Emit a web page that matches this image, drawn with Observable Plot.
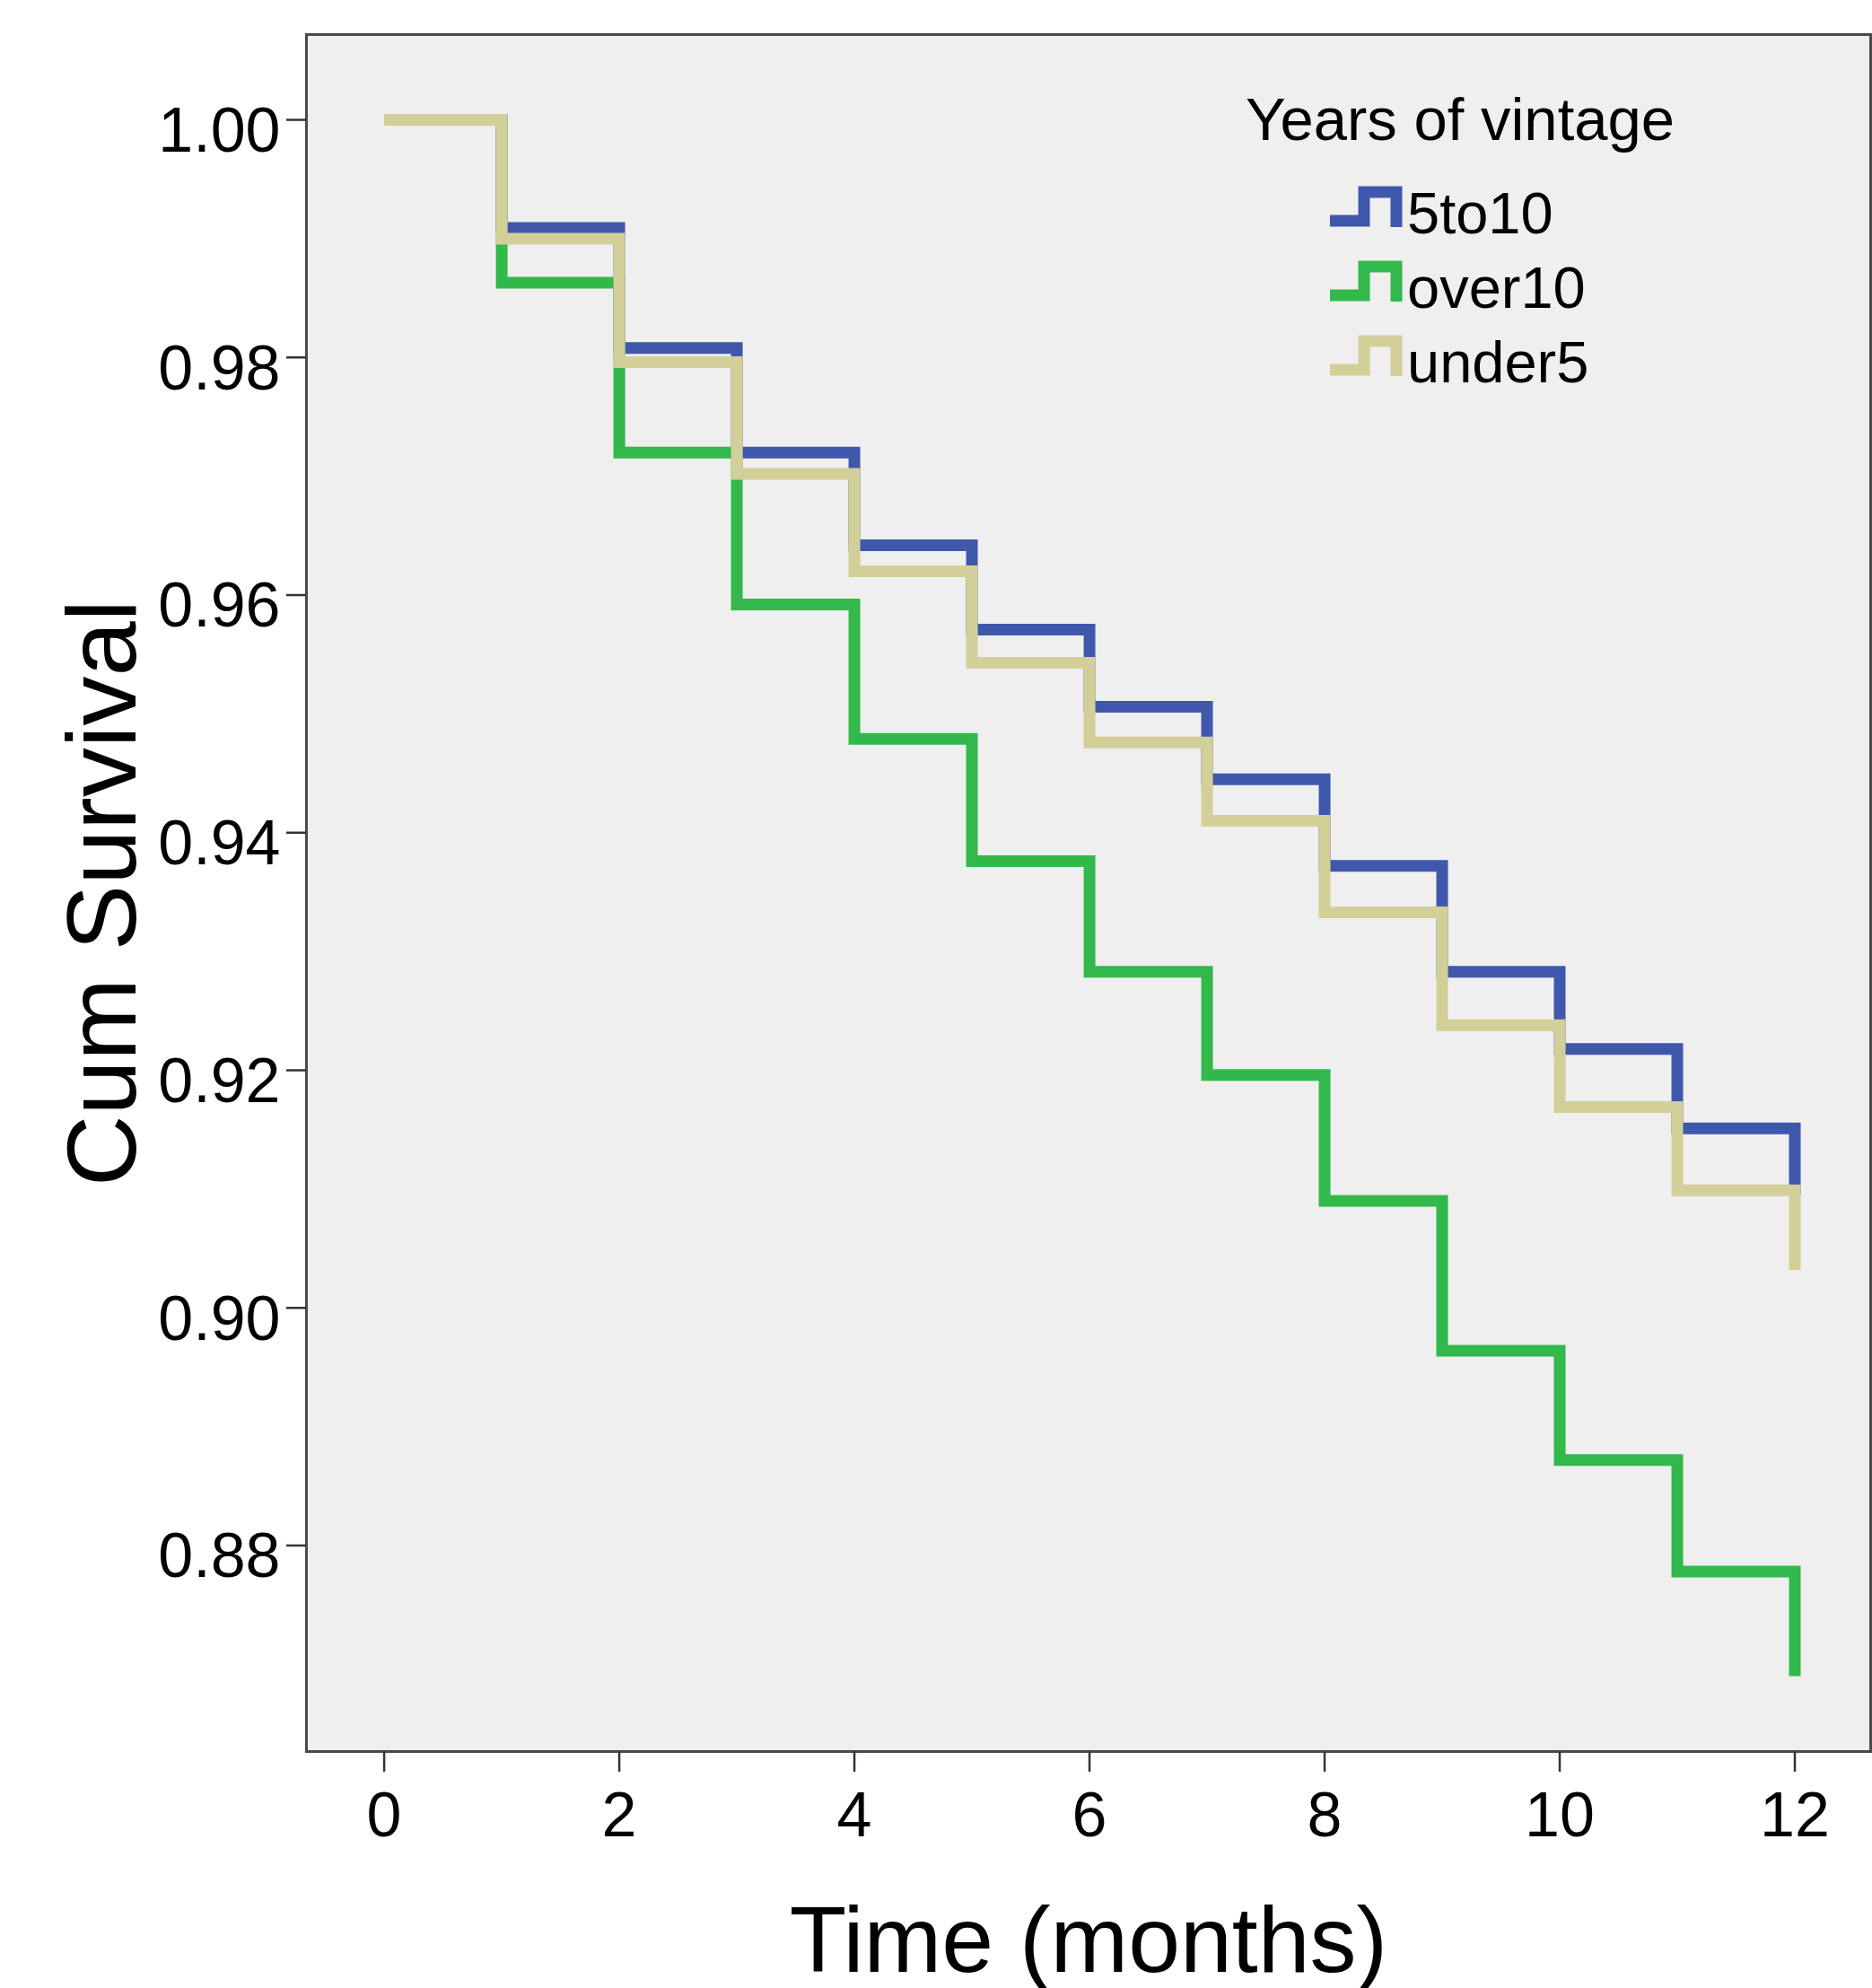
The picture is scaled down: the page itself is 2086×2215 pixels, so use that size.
<!DOCTYPE html>
<html>
<head>
<meta charset="utf-8">
<script src="https://cdn.jsdelivr.net/npm/d3@7"></script>
<script src="https://cdn.jsdelivr.net/npm/@observablehq/plot@0.6"></script>
<style>
  html, body { margin: 0; padding: 0; background: #ffffff; }
  #chart svg { display: block; }
</style>
</head>
<body>
<div id="chart"></div>
<script>
// ---- Data ----
const months = [0, 1, 2, 3, 4, 5, 6, 7, 8, 9, 10, 11, 12];
const groups = ["5to10", "over10", "under5"];
const groupColors = ["#3F58AB", "#32B84B", "#D3CF98"];
const survival5to10 = [1.0000, 0.9909, 0.9808, 0.9720, 0.9642, 0.9571, 0.9506, 0.9445, 0.9372, 0.9283, 0.9218, 0.9151, 0.9095];
const survivalOver10 = [1.0000, 0.9863, 0.9720, 0.9592, 0.9479, 0.9376, 0.9283, 0.9196, 0.9090, 0.8964, 0.8872, 0.8778, 0.8690];
const survivalUnder5 = [1.0000, 0.9900, 0.9796, 0.9702, 0.9620, 0.9543, 0.9476, 0.9410, 0.9333, 0.9238, 0.9169, 0.9099, 0.9032];
const xTicks = [0, 2, 4, 6, 8, 10, 12];
const yTicks = [0.88, 0.90, 0.92, 0.94, 0.96, 0.98, 1.00];
const legendTitle = "Years of vintage";
const xLabel = "Time (months)";
const yLabel = "Cum Survival";

// long-format table for the library
const seriesValues = [survival5to10, survivalOver10, survivalUnder5];
const rows = [];
groups.forEach((g, i) => {
  months.forEach((m, j) => rows.push({group: g, month: m, survival: seriesValues[i][j]}));
});

const FONT = "'Liberation Sans', Arial, Helvetica, sans-serif";

const chart = Plot.plot({
  width: 2086,
  height: 2215,
  marginLeft: 341,
  marginTop: 38,
  marginRight: 2,
  marginBottom: 264,
  style: {fontFamily: FONT, fontSize: "70px", color: "#000", background: "#ffffff", overflow: "visible"},
  x: {domain: [-0.661, 12.645], label: null},
  y: {domain: [0.86266, 1.00718], label: null},
  color: {domain: groups, range: groupColors},
  marks: [
    Plot.frame({fill: "#EFEFEF", stroke: null}),
    Plot.line(rows, {
      x: "month", y: "survival", z: "group", stroke: "group",
      curve: "step-after", strokeWidth: 13,
      strokeLinecap: "butt", strokeLinejoin: "miter", strokeMiterlimit: 4
    }),
    Plot.frame({stroke: "#4a4a4a", strokeWidth: 3, fill: "none"}),
    Plot.axisX({ticks: xTicks, tickSize: 23, tickPadding: 22, fontSize: 70, stroke: "#333", strokeWidth: 2.5, fill: "#000", label: null}),
    Plot.axisY({ticks: yTicks, tickSize: 22, stroke: "#333", strokeWidth: 2.5, fill: "none", label: null}),
    Plot.axisY({ticks: yTicks, tickSize: 22, tickPadding: 7, stroke: "none", fill: "#000", dy: 13, fontSize: 70, tickFormat: d3.format(".2f"), label: null}),
    Plot.text([yLabel], {text: d => d, frameAnchor: "left", textAnchor: "middle", rotate: -90, dx: -226, lineAnchor: "middle", fontSize: 110, fill: "#000"}),
    Plot.text([xLabel], {text: d => d, frameAnchor: "bottom", textAnchor: "middle", dy: 212, lineAnchor: "middle", fontSize: 104, fill: "#000"})
  ]
});

document.getElementById("chart").appendChild(chart);

// ---- Legend inside the plot (top-right) ----
const svg = d3.select(chart);
const lg = svg.append("g").attr("font-family", FONT).attr("fill", "#000").attr("text-anchor", "start");
lg.append("text").attr("x", 1388).attr("y", 156).attr("font-size", 67).attr("text-anchor", "start").text(legendTitle);
const baselines = [260, 343, 426];
groups.forEach((g, i) => {
  const b = baselines[i];
  lg.append("path")
    .attr("d", `M1482,${b - 14}H1520V${b - 46}H1556V${b - 7}`)
    .attr("fill", "none")
    .attr("stroke", groupColors[i])
    .attr("stroke-width", 13)
    .attr("stroke-linejoin", "miter")
    .attr("stroke-linecap", "butt");
  lg.append("text").attr("x", 1568).attr("y", b).attr("font-size", 65).attr("text-anchor", "start").text(g);
});
</script>
</body>
</html>
